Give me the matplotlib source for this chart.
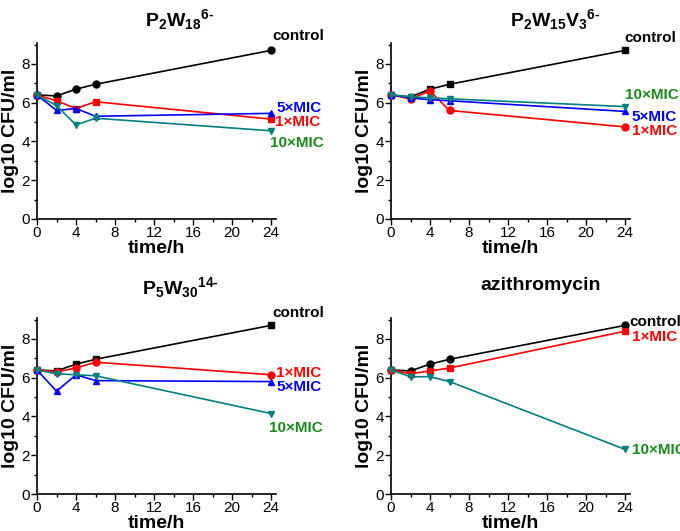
import matplotlib
matplotlib.use('Agg')
import matplotlib.pyplot as plt
from matplotlib.ticker import MultipleLocator

plt.rcParams['font.family'] = ['Liberation Sans', 'DejaVu Sans']
plt.rcParams['mathtext.fontset'] = 'custom'
plt.rcParams['mathtext.rm'] = 'Liberation Sans:bold'
plt.rcParams['mathtext.it'] = 'Liberation Sans:bold'
plt.rcParams['mathtext.bf'] = 'Liberation Sans:bold'
plt.rcParams['mathtext.default'] = 'rm'

# sampling times (h)
time_h = [0, 2, 4, 6, 24]

# P2W18 6-
p2w18_control = [6.4, 6.35, 6.7, 6.95, 8.7]
p2w18_1mic = [6.4, 6.1, 5.7, 6.05, 5.15]
p2w18_5mic = [6.4, 5.6, 5.7, 5.3, 5.45]
p2w18_10mic = [6.4, 5.85, 4.85, 5.2, 4.55]

# P2W15V3 6-
p2w15v3_control = [6.4, 6.3, 6.7, 6.95, 8.7]
p2w15v3_1mic = [6.4, 6.2, 6.6, 5.6, 4.75]
p2w15v3_5mic = [6.4, 6.25, 6.15, 6.1, 5.55]
p2w15v3_10mic = [6.4, 6.3, 6.25, 6.2, 5.8]

# P5W30 14-
p5w30_control = [6.4, 6.35, 6.7, 6.95, 8.7]
p5w30_1mic = [6.4, 6.3, 6.5, 6.8, 6.15]
p5w30_5mic = [6.4, 5.3, 6.15, 5.85, 5.8]
p5w30_10mic = [6.4, 6.2, 6.15, 6.1, 4.15]

# azithromycin
azi_control = [6.4, 6.35, 6.7, 6.95, 8.7]
azi_1mic = [6.4, 6.2, 6.35, 6.5, 8.4]
azi_10mic = [6.4, 6.05, 6.05, 5.8, 2.3]

BLACK = 'black'
RED = '#ff0000'
BLUE = '#0000ff'
TEAL = '#008080'
GREEN = '#1a8a1a'

fig = plt.figure(figsize=(6.8, 5.31), dpi=100)

W = 239 / 680
H = 176 / 531
positions = [
    (37 / 680, 1 - 219 / 531),
    (391 / 680, 1 - 219 / 531),
    (37 / 680, 1 - 494 / 531),
    (391 / 680, 1 - 494 / 531),
]


def setup_axes(ax):
    ax.set_xlim(0, 24.5)
    ax.set_ylim(0, 9.08)
    ax.spines['top'].set_visible(False)
    ax.spines['right'].set_visible(False)
    ax.spines['left'].set_linewidth(1.2)
    ax.spines['bottom'].set_linewidth(1.2)
    ax.xaxis.set_major_locator(MultipleLocator(4))
    ax.xaxis.set_minor_locator(MultipleLocator(2))
    ax.yaxis.set_major_locator(MultipleLocator(2))
    ax.yaxis.set_minor_locator(MultipleLocator(1))
    ax.tick_params(which='major', direction='out', length=4, width=1, labelsize=11, pad=1)
    ax.tick_params(which='minor', direction='out', length=2, width=1)
    ax.set_xlabel('time/h', fontsize=14, fontweight='bold', labelpad=0)
    ax.set_ylabel('log10 CFU/ml', fontsize=14, fontweight='bold', labelpad=2)


def plot_series(ax, series):
    for values, marker, color in series:
        ax.plot(time_h, values, color=color, marker=marker, markersize=5,
                linewidth=1.2, clip_on=False, zorder=3)


def add_labels(ax, labels):
    for text, x, y, color in labels:
        ax.text(x, y, text, color=color, fontsize=11, fontweight='bold',
                va='center', ha='left', clip_on=False)


axes = [fig.add_axes([x, y, W, H]) for x, y in positions]
for ax in axes:
    setup_axes(ax)

# top left
plot_series(axes[0], [(p2w18_control, 'o', BLACK), (p2w18_1mic, 's', RED),
                      (p2w18_5mic, '^', BLUE), (p2w18_10mic, 'v', TEAL)])
add_labels(axes[0], [('control', 24.1, 9.45, BLACK), ('5×MIC', 24.5, 5.73, BLUE),
                     ('1×MIC', 24.4, 5.0, RED), ('10×MIC', 23.9, 3.92, GREEN)])

# top right
plot_series(axes[1], [(p2w15v3_control, 's', BLACK), (p2w15v3_1mic, 'o', RED),
                      (p2w15v3_5mic, '^', BLUE), (p2w15v3_10mic, 'v', TEAL)])
add_labels(axes[1], [('control', 23.9, 9.34, BLACK), ('10×MIC', 24.0, 6.4, GREEN),
                     ('5×MIC', 24.7, 5.26, BLUE), ('1×MIC', 24.7, 4.54, RED)])

# bottom left
plot_series(axes[2], [(p5w30_control, 's', BLACK), (p5w30_1mic, 'o', RED),
                      (p5w30_5mic, '^', BLUE), (p5w30_10mic, 'v', TEAL)])
add_labels(axes[2], [('control', 24.1, 9.34, BLACK), ('1×MIC', 24.5, 6.25, RED),
                     ('5×MIC', 24.6, 5.52, BLUE), ('10×MIC', 23.8, 3.4, GREEN)])

# bottom right
plot_series(axes[3], [(azi_control, 'o', BLACK), (azi_1mic, 's', RED),
                      (azi_10mic, 'v', TEAL)])
add_labels(axes[3], [('control', 24.4, 8.88, BLACK), ('1×MIC', 24.7, 8.1, RED),
                     ('10×MIC', 24.7, 2.27, GREEN)])

# titles
fig.text(180 / 680, 1 - 20 / 531, r'$P_2W_{18}{}^{\text{6-}}$', fontsize=14, ha='center', va='center')
fig.text(555 / 680, 1 - 20 / 531, r'$P_2W_{15}V_3{}^{\text{6-}}$', fontsize=14, ha='center', va='center')
fig.text(180 / 680, 1 - 288 / 531, r'$P_5W_{30}{}^{\text{14-}}$', fontsize=14, ha='center', va='center')
fig.text(541 / 680, 1 - 285 / 531, 'azithromycin', fontsize=14, fontweight='bold',
         ha='center', va='center')

fig.savefig('out.png', dpi=100)
